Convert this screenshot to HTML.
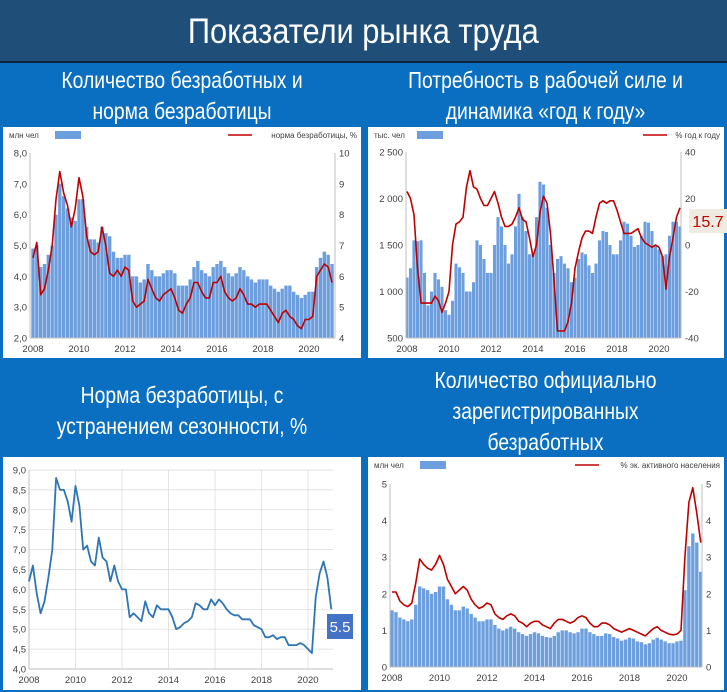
<!DOCTYPE html>
<html><head><meta charset="utf-8">
<style>
body{margin:0;width:727px;height:692px;overflow:hidden;background:#0a6fc0;font-family:"Liberation Sans",sans-serif;position:relative}
.hdr{position:absolute;left:0;top:0;width:727px;height:61px;background:#1f4e79;border-bottom:2px solid #10253d;color:#fff;font-size:35px;text-align:center;line-height:64px}
.hdr span{display:inline-block;transform:scaleX(0.88)}
.pt{position:absolute;color:#fff;font-size:23px;text-align:center;line-height:31px;transform:scaleX(0.84);transform-origin:50% 0}
svg{position:absolute;left:0;top:0}
text{font-family:"Liberation Sans",sans-serif}
</style></head><body>
<div class="hdr"><span>Показатели рынка труда</span></div>
<div class="pt" style="left:0;top:65px;width:364px">Количество безработных и<br>норма безработицы</div>
<div class="pt" style="left:364px;top:65px;width:363px">Потребность в рабочей силе и<br>динамика «год к году»</div>
<div class="pt" style="left:0;top:380px;width:364px">Норма безработицы, с<br>устранением сезонности, %</div>
<div class="pt" style="left:364px;top:365px;width:363px">Количество официально<br>зарегистрированных<br>безработных</div>
<svg id="svg" width="727" height="692"></svg>
<script>
// ---- data (bimonthly from Jan 2008) ----
const years=[2008,2010,2012,2014,2016,2018,2020];
const c1Bars=[4.9,5.0,4.3,4.4,4.7,5.0, 6.0,7.0,6.6,6.2,5.9,5.8, 6.5,6.5,5.6,5.2,5.2,5.1, 5.6,5.4,5.3,4.8,4.6,4.6, 4.7,4.7,4.0,4.0,3.8,3.9, 4.4,4.2,4.0,4.0,4.1,4.2, 4.2,4.1,3.7,3.7,3.7,3.9, 4.3,4.5,4.2,4.1,4.0,4.3, 4.4,4.5,4.3,4.1,4.0,4.1, 4.3,4.2,4.0,3.9,3.8,3.9, 3.9,3.9,3.7,3.6,3.5,3.6, 3.7,3.7,3.5,3.4,3.3,3.4, 3.5,3.5,4.3,4.6,4.8,4.7, 4.4];
const c1Line=[6.6,7.1,5.4,5.6,6.2,7.0, 8.5,9.4,8.7,8.3,7.6,8.2, 9.2,8.6,7.3,6.8,6.7,6.8, 7.6,7.0,6.1,6.0,6.2,6.0, 6.3,6.2,5.2,5.0,5.1,5.2, 5.9,5.6,5.3,5.2,5.4,5.5, 5.6,5.3,4.9,4.8,5.1,5.3, 5.8,5.8,5.5,5.3,5.3,5.8, 5.8,6.0,5.5,5.3,5.2,5.3, 5.6,5.4,5.1,5.1,5.0,5.1, 5.1,5.1,4.9,4.7,4.5,4.8, 4.9,4.7,4.6,4.4,4.3,4.6, 4.6,4.7,6.0,6.2,6.4,6.3, 5.8];
const c1LeftTicks=["2,0","3,0","4,0","5,0","6,0","7,0","8,0"];
const c1RightTicks=["4","5","6","7","8","9","10"];
const c2Bars=[1150,1250,1550,1540,1550,1200, 850,1000,1200,1130,1050,800, 750,900,1300,1260,1200,1000, 1000,1100,1550,1500,1350,1200, 1200,1500,1800,1700,1500,1300, 1400,1700,2050,1800,1650,1400, 1400,1800,2180,2150,1900,1500, 1200,1350,1380,1300,1250,1100, 1150,1350,1420,1400,1280,1200, 1300,1550,1650,1640,1500,1400, 1400,1550,1750,1730,1600,1480, 1500,1600,1750,1740,1650,1500, 1450,1380,1400,1600,1750,1750, 1700];
const c2Line=[23,20,13,-10,-25,-25, -25,-25,-22,-24,-29,-25, -20,0,9,10,12,25, 32,25,24,20,17,17, 20,23,18,12,8,8, 9,12,16,11,10,3, -5,0,14,21,18,5, -15,-37,-37,-37,-33,-25, -10,-3,3,6,6,5, 12,18,19,18,19,19, 15,10,5,5,5,6, 7,3,1,0,-1,0, -1,-5,-19,-5,3,12, 16];
const c2LeftTicks=["500","1 000","1 500","2 000","2 500"];
const c2RightTicks=["-40","-20","0","20","40"];
const c3Line=[6.2,6.6,5.9,5.4,5.7,6.3, 7.0,8.8,8.5,8.5,8.2,7.7, 8.6,8.1,7.0,7.1,6.7,6.6, 7.3,6.8,6.7,6.2,6.6,6.2, 6.0,6.0,5.3,5.4,5.3,5.2, 5.7,5.4,5.3,5.6,5.5,5.5, 5.5,5.3,5.0,5.05,5.15,5.2, 5.3,5.65,5.6,5.5,5.5,5.75, 5.6,5.75,5.65,5.5,5.4,5.35, 5.35,5.25,5.25,5.25,5.1,5.05, 5.0,4.8,4.8,4.85,4.75,4.8, 4.8,4.6,4.6,4.6,4.65,4.6, 4.5,4.4,5.8,6.4,6.7,6.3, 5.5];
const c3Ticks=["4,0","4,5","5,0","5,5","6,0","6,5","7,0","7,5","8,0","8,5","9,0"];
const c4Bars=[1.55,1.5,1.35,1.3,1.25,1.3, 1.7,2.2,2.15,2.1,2.0,2.05, 2.2,2.2,1.85,1.7,1.55,1.55, 1.65,1.6,1.45,1.35,1.25,1.25, 1.3,1.3,1.15,1.05,1.0,1.05, 1.1,1.05,0.95,0.9,0.85,0.9, 0.95,0.92,0.85,0.82,0.8,0.85, 0.95,1.0,1.0,0.95,0.92,0.95, 1.05,1.05,0.95,0.9,0.85,0.85, 0.92,0.9,0.82,0.78,0.72,0.75, 0.8,0.78,0.7,0.68,0.62,0.65, 0.75,0.8,0.75,0.7,0.65,0.65, 0.7,0.72,2.1,3.3,3.65,3.4, 2.6];
const c4Line=[2.05,2.05,1.8,1.7,1.65,1.75, 2.3,2.95,2.8,2.7,2.65,2.8, 3.05,2.8,2.4,2.2,2.0,2.1, 2.2,2.1,1.85,1.7,1.6,1.65, 1.75,1.7,1.45,1.35,1.3,1.4, 1.45,1.4,1.25,1.2,1.1,1.2, 1.25,1.25,1.15,1.1,1.05,1.2, 1.3,1.3,1.25,1.2,1.25,1.35, 1.4,1.35,1.2,1.1,1.1,1.2, 1.2,1.15,1.05,1.0,0.95,1.0, 1.05,1.0,0.95,0.9,0.85,0.95, 1.05,1.1,1.0,0.95,0.9,0.88, 0.9,1.0,3.0,4.5,4.9,4.2, 3.4];
const c4Ticks=["0","1","2","3","4","5"];

const svg=document.getElementById('svg');
const NS='http://www.w3.org/2000/svg';
function mk(tag,attrs,parent){const e=document.createElementNS(NS,tag);for(const k in attrs)e.setAttribute(k,attrs[k]);(parent||svg).appendChild(e);return e;}
function txt(x,y,s,size,anchor,fill,parent){const e=mk('text',{x:x,y:y,'font-size':size,'text-anchor':anchor,fill:fill},parent);e.textContent=s;return e;}
function tOf(i){return 2008+i/6;}

function chart(cfg){
  const g=mk('g',{});
  
  
  const box=mk('rect',{x:cfg.box[0],y:cfg.box[1],width:cfg.box[2],height:cfg.box[3],fill:'#fff'},g);
  
  
  const X=t=>cfg.x0+(t-2008)*cfg.px;
  const YL=v=>cfg.yb-(v-cfg.lmin)/(cfg.lmax-cfg.lmin)*(cfg.yb-cfg.yt);
  const YR=v=>cfg.yb-(v-cfg.rmin)/(cfg.rmax-cfg.rmin)*(cfg.yb-cfg.yt);
  if(cfg.grid){
    cfg.lt.forEach((s,i)=>{const v=cfg.lmin+i*(cfg.lmax-cfg.lmin)/(cfg.lt.length-1);const y=YL(v);
      const l=mk('line',{x1:cfg.pl,x2:cfg.pr,y1:y,y2:y,stroke:'#d9d9d9','stroke-width':0.7},g);
      
      });
    years.forEach(yr=>{const x=X(yr);const l=mk('line',{x1:x,x2:x,y1:cfg.yt,y2:cfg.yb,stroke:'#d9d9d9','stroke-width':0.7},g);
      
      });
  }
  if(cfg.bars){
    cfg.bars.forEach((v,i)=>{const x=X(tOf(i));const y=YL(v);
      const r=mk('rect',{x:x-cfg.bw/2,y:y,width:cfg.bw,height:cfg.yb-y,fill:'#6d9fdf'},g);
      
      });
  }
  const ax=mk('line',{x1:cfg.pl,x2:cfg.pl,y1:cfg.yt,y2:cfg.yb,stroke:'#bfbfbf','stroke-width':1},g);
  
  
  const bx=mk('line',{x1:cfg.pl,x2:cfg.pr,y1:cfg.yb,y2:cfg.yb,stroke:'#bfbfbf','stroke-width':1},g);
  
  
  if(cfg.rt){const rx=mk('line',{x1:cfg.pr,x2:cfg.pr,y1:cfg.yt,y2:cfg.yb,stroke:'#bfbfbf','stroke-width':1},g);
    
    }
  cfg.lt.forEach((s,i)=>{const v=cfg.lmin+i*(cfg.lmax-cfg.lmin)/(cfg.lt.length-1);
    const t=txt(cfg.pl-3,YL(v)+3.5,s,9.5,'end','#404040',g);
    
    });
  if(cfg.rt) cfg.rt.forEach((s,i)=>{const v=cfg.rmin+i*(cfg.rmax-cfg.rmin)/(cfg.rt.length-1);
    const t=txt(cfg.pr+4,YR(v)+3.5,s,9.5,'start','#404040',g);
    
    });
  years.forEach(yr=>{const t=txt(X(yr),cfg.yb+14,String(yr),9.5,'middle','#404040',g);
    
    });
  if(cfg.line){
    const Y=cfg.lineRight?YR:YL;
    const d=cfg.line.map((v,i)=>(i?'L':'M')+X(tOf(i)).toFixed(1)+','+Y(v).toFixed(1)).join('');
    const p=mk('path',{d:d,fill:'none',stroke:cfg.lc,'stroke-width':cfg.lw,'stroke-linejoin':'round'},g);
    
    
  }
  if(cfg.leg){
    const u=txt(cfg.box[0]+6,cfg.box[1]+11,cfg.leg[0],8,'start','#404040',g);
    
    
    const s=mk('rect',{x:cfg.leg[1],y:cfg.box[1]+4,width:26,height:8,fill:'#6d9fdf'},g);
    
    
    const ll=mk('line',{x1:cfg.leg[2],x2:cfg.leg[2]+24,y1:cfg.box[1]+8,y2:cfg.box[1]+8,stroke:'#c00000','stroke-width':1.5},g);
    
    
    const lt=txt(cfg.box[0]+cfg.box[2]-4,cfg.box[1]+11,cfg.leg[3],8,'end','#404040',g);
    
    
  }
  return {X,YL,YR};
}

chart({name:'chart-unemployed',box:[3,127,358,231],x0:33,px:23,pl:30,pr:335,yt:153,yb:338,lmin:2,lmax:8,rmin:4,rmax:10,lt:c1LeftTicks,rt:c1RightTicks,bars:c1Bars,bw:3.4,line:c1Line,lineRight:true,lc:'#c00000',lw:1.6,leg:['млн чел',55,228,'норма безработицы, %']});
chart({name:'chart-labor-demand',box:[368,127,356,231],x0:407,px:21,pl:406,pr:681,yt:152,yb:338,lmin:500,lmax:2500,rmin:-40,rmax:40,lt:c2LeftTicks,rt:c2RightTicks,bars:c2Bars,bw:3.1,line:c2Line,lineRight:true,lc:'#c00000',lw:1.6,leg:['тыс. чел',417,643,'% год к году']});
chart({name:'chart-seasonal-rate',box:[3,457,358,233],x0:29,px:23.25,pl:29,pr:333,yt:470,yb:669,lmin:4,lmax:9,lt:c3Ticks,grid:true,line:c3Line,lc:'#2e75b6',lw:1.8});
chart({name:'chart-registered',box:[368,457,356,233],x0:392,px:23.75,pl:390,pr:702,yt:484,yb:667,lmin:0,lmax:5,rmin:0,rmax:5,lt:c4Ticks,rt:c4Ticks,bars:c4Bars,bw:3.4,line:c4Line,lineRight:true,lc:'#c00000',lw:1.6,leg:['млн чел',420,575,'%  эк. активного населения']});

const b1=mk('rect',{x:689,y:209,width:38,height:24,fill:'#efebe0'});


const t1=txt(708,227,'15.7',16,'middle','#c00000');


const b2=mk('rect',{x:327,y:614,width:26,height:25,fill:'#4472c4'});


const t2=txt(340,632,'5.5',15,'middle','#fff');


</script>
</body></html>
